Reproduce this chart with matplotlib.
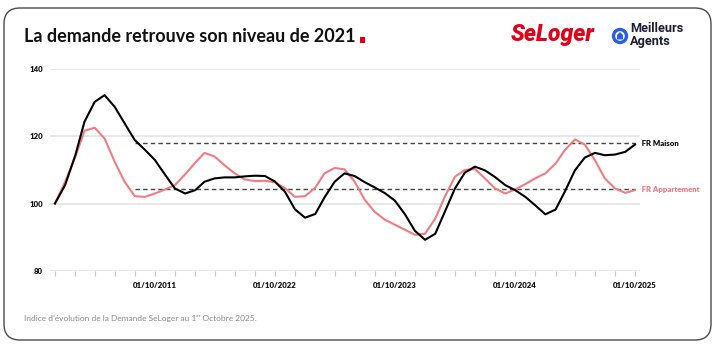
import numpy as np
import pandas as pd
import matplotlib
matplotlib.use("Agg")
import matplotlib.pyplot as plt
from matplotlib.patches import FancyBboxPatch, Circle, Polygon, Rectangle

plt.rcParams['font.family'] = ['Lato', 'DejaVu Sans']

# monthly index values, Dec 2020 -> Oct 2025
months = pd.date_range('2020-12-01', '2025-10-01', freq='MS')
maison = [100, 105.5, 114.4, 124.4, 130.3, 132.3, 128.8, 123.9, 118.9, 116.0,
          113.0, 108.6, 104.5, 103.0, 104.0, 106.5, 107.5, 107.8, 107.8, 108.1,
          108.3, 108.2, 106.6, 103.5, 98.3, 95.8, 96.9, 101.8, 106.5, 109.0,
          108.2, 106.4, 104.8, 103.1, 100.9, 96.8, 91.9, 89.2, 91.0, 97.5,
          104.5, 109.2, 111.0, 109.9, 107.9, 105.5, 104.0, 102.0, 99.5, 96.8,
          98.2, 103.5, 109.9, 113.7, 115.1, 114.4, 114.6, 115.4, 117.6]
appartement = [100, 106.5, 113.9, 121.7, 122.6, 119.4, 112.4, 106.5, 102.2, 102.0,
               103.0, 104.2, 105.5, 108.7, 112.2, 115.1, 114.0, 111.4, 109.0, 107.2,
               106.7, 106.8, 106.3, 104.6, 102.0, 102.2, 104.7, 109.0, 110.6, 110.2,
               106.5, 101.2, 97.5, 95.2, 93.7, 92.2, 90.7, 91.0, 95.5, 102.0,
               108.0, 110.0, 110.3, 107.5, 104.5, 103.0, 104.2, 105.8, 107.5, 109.0,
               111.9, 115.9, 119.1, 117.6, 112.9, 107.5, 104.5, 103.2, 104.0]

ref_start = pd.Timestamp('2021-08-01')
ref_maison = 118.0
ref_appart = 104.2

yticks = [80, 100, 120, 140]
# labels as printed on the original (first one reads 2011)
xtick_text = {pd.Timestamp('2021-10-01'): '01/10/2011',
              pd.Timestamp('2022-10-01'): '01/10/2022',
              pd.Timestamp('2023-10-01'): '01/10/2023',
              pd.Timestamp('2024-10-01'): '01/10/2024',
              pd.Timestamp('2025-10-01'): '01/10/2025'}

black = '#000000'
pink = '#f07c84'
red = '#e2001a'
blue = '#2a5ee8'

W, H = 720, 353
fig = plt.figure(figsize=(W / 100, H / 100), dpi=100)
px = fig.dpi_scale_trans

def inch(x, y):
    # pixel position from top-left -> inches from bottom-left
    return x / 100, (H - y) / 100

# rounded frame
fig.patches.append(FancyBboxPatch(inch(4, 340), 7.07, 3.32,
                                  boxstyle='round,pad=0,rounding_size=0.16',
                                  transform=px, facecolor='none',
                                  edgecolor='#4a4a4a', linewidth=1.0))

# title + red square
title = fig.text(24 / W, 1 - 37 / H, 'La demande retrouve son niveau de 2021',
                 fontsize=13, fontweight='bold', color='#111111', va='center')
fig.canvas.draw()
bb = title.get_window_extent()
fig.patches.append(Rectangle((bb.x1 / 100 + 0.04, (H - 43) / 100), 0.055, 0.055,
                             transform=px, facecolor=red, edgecolor='none'))

# logos
fig.text(553 / W, 1 - 35 / H, 'SeLoger', family=['Roboto', 'DejaVu Sans'],
         fontsize=16.5, fontweight='heavy', style='italic', color=red,
         ha='center', va='center')
cx, cy = inch(620, 36)
fig.patches.append(Circle((cx, cy), 0.065, transform=px, facecolor='white',
                          edgecolor=blue, linewidth=2.4))
fig.patches.append(Polygon([(cx - 0.03, cy - 0.035), (cx + 0.03, cy - 0.035),
                            (cx + 0.03, cy + 0.01), (cx, cy + 0.04),
                            (cx - 0.03, cy + 0.01)], closed=True,
                           transform=px, facecolor=blue, edgecolor='none'))
fig.text(630 / W, 1 - 29 / H, 'Meilleurs', family=['Roboto', 'DejaVu Sans'],
         fontsize=9.2, fontweight='bold', color='#1d1d35', va='center')
fig.text(630 / W, 1 - 42 / H, 'Agents', family=['Roboto', 'DejaVu Sans'],
         fontsize=9.2, fontweight='bold', color='#1d1d35', va='center')

# chart
ax = fig.add_axes([50 / W, 1 - 270.7 / H, 590 / W, 201.4 / H])
ax.set_facecolor('none')
for yv in yticks:
    ax.axhline(yv, color='#e3e3e3', linewidth=1.2, zorder=0)

ax.plot([ref_start, months[-1]], [ref_maison, ref_maison], color='#444444',
        linewidth=1.0, linestyle=(0, (3.2, 2.3)), zorder=1)
ax.plot([ref_start, months[-1]], [ref_appart, ref_appart], color='#444444',
        linewidth=1.0, linestyle=(0, (3.2, 2.3)), zorder=1)

ax.plot(months, appartement, color=pink, linewidth=1.5, zorder=2)
ax.plot(months, maison, color=black, linewidth=1.5, zorder=3)

ax.text(1.0, ref_maison, ' FR Maison', transform=ax.get_yaxis_transform(),
        fontsize=5.6, fontweight='heavy', color='#111111', va='center', ha='left')
ax.text(1.0, ref_appart, ' FR Appartement', transform=ax.get_yaxis_transform(),
        fontsize=5.6, fontweight='heavy', color=pink, va='center', ha='left')

ax.set_ylim(80, 140)
ax.set_xlim(months[0] - pd.Timedelta(days=15), months[-1] + pd.Timedelta(days=15))
ax.set_yticks(yticks)
ax.set_yticklabels([str(v) for v in yticks])
ticks = months[::2]
ax.set_xticks(ticks)
ax.set_xticklabels([xtick_text.get(t, '') for t in ticks])
ax.tick_params(axis='y', length=0, pad=5, labelsize=5.6, labelcolor='#111111')
ax.tick_params(axis='x', length=3.5, width=0.8, color='#c8c8c8', pad=4.5,
               labelsize=5.6, labelcolor='#111111')
for lab in ax.get_xticklabels() + ax.get_yticklabels():
    lab.set_fontweight('heavy')
for s in ax.spines.values():
    s.set_visible(False)

# footnote
fig.text(24 / W, 1 - 318 / H,
         'Indice d\u2019évolution de la Demande SeLoger au 1\u1d49\u02b3 Octobre 2025.',
         fontsize=6, color='#8a8a8a', va='center')

fig.savefig('out.png', dpi=100)
